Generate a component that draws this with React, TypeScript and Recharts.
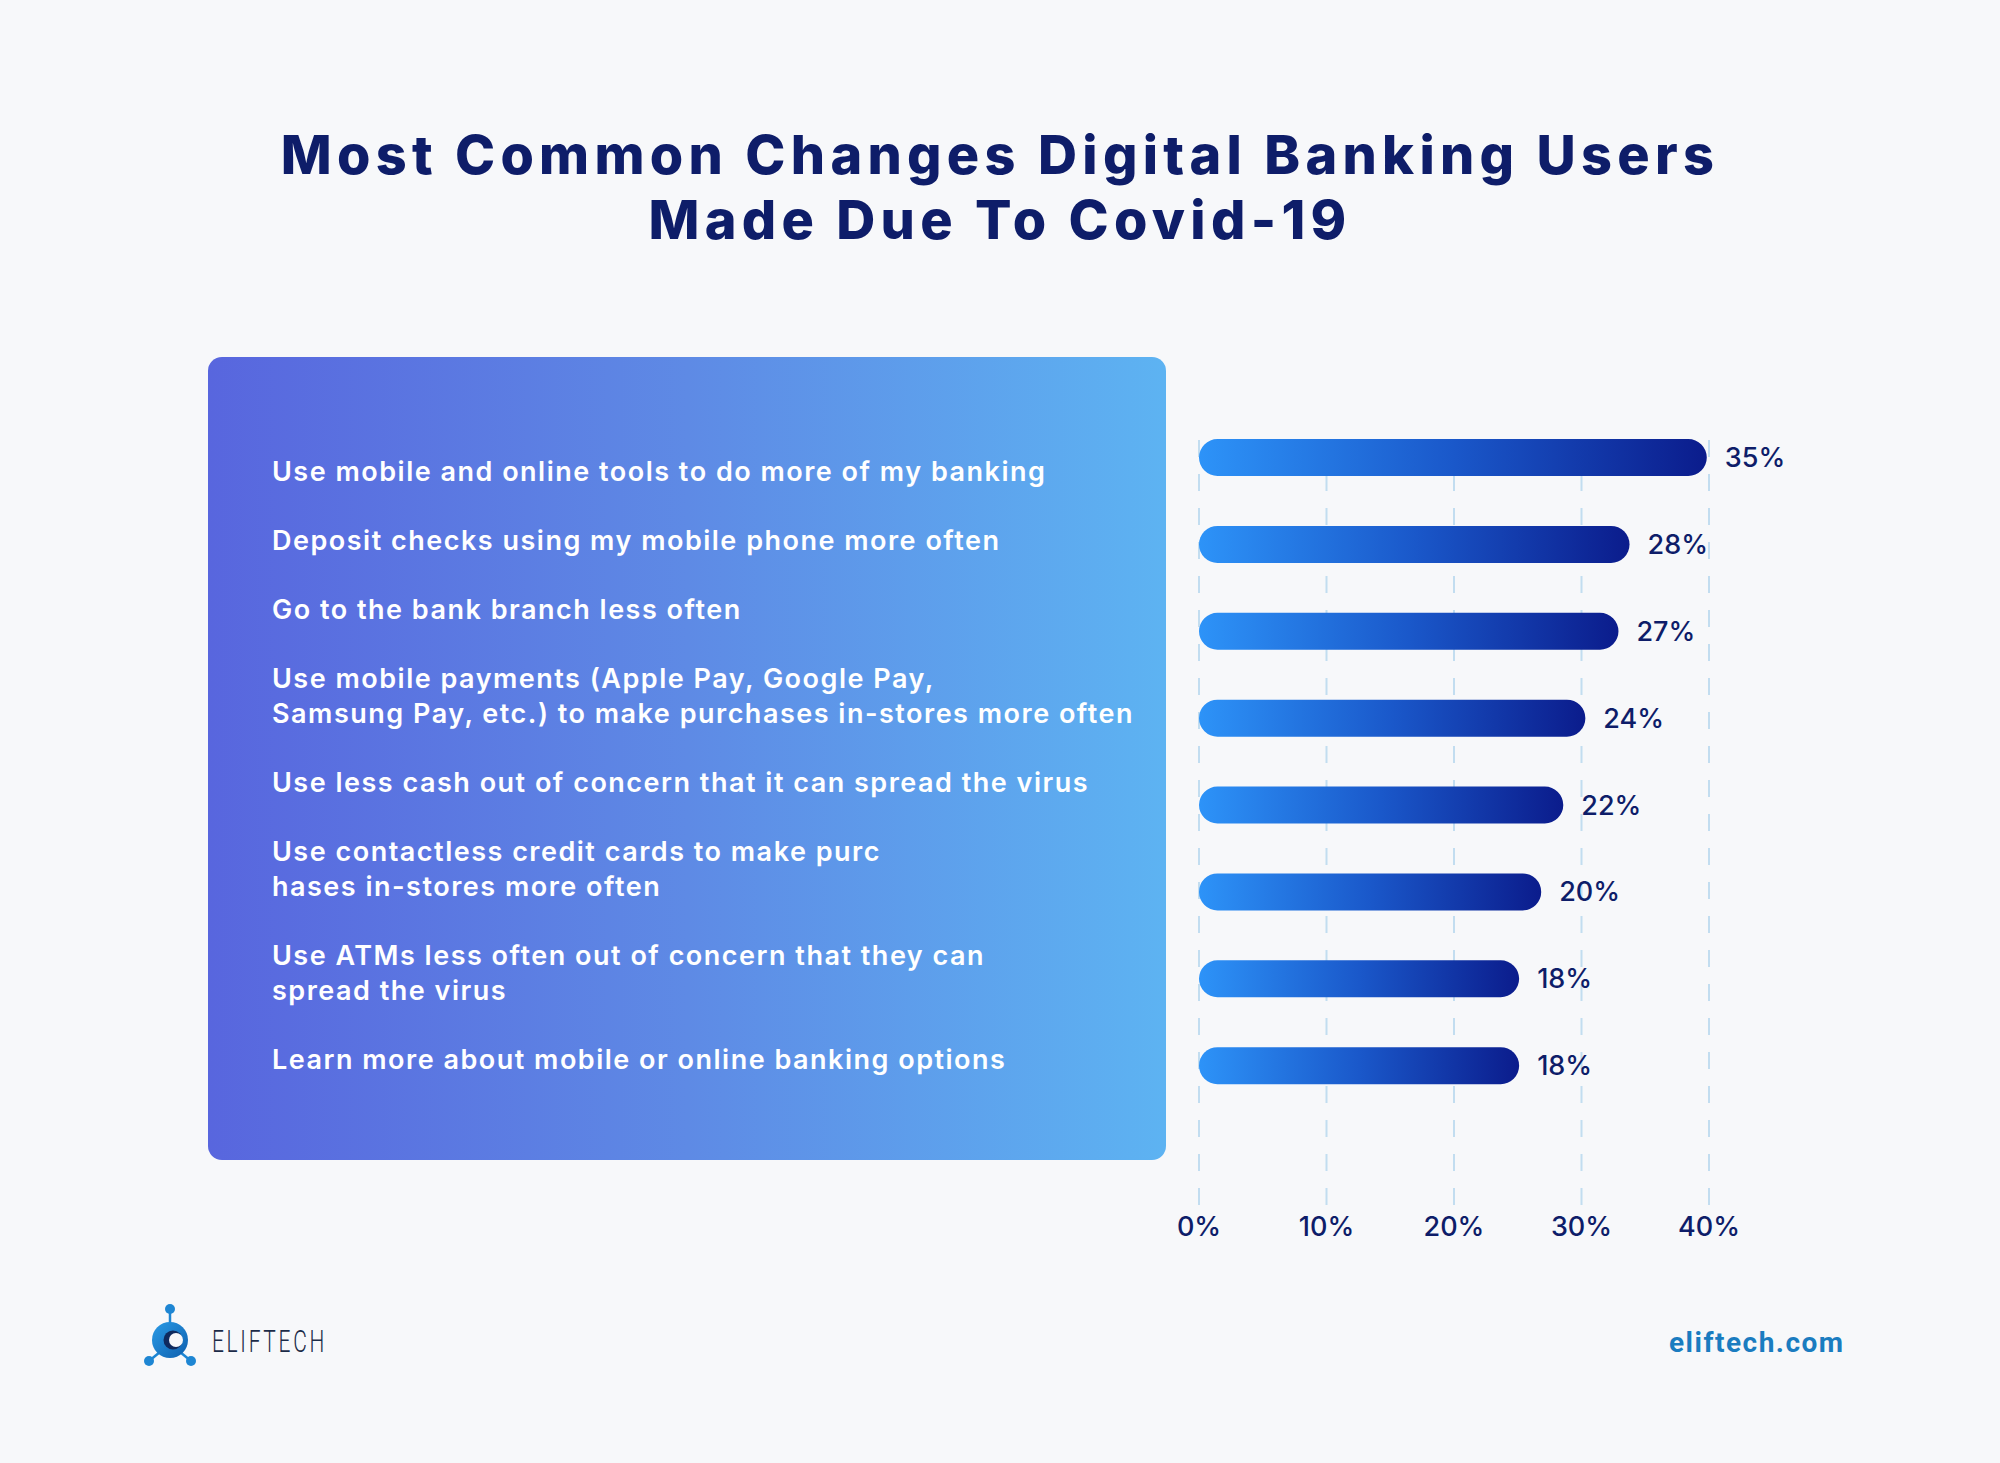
import { Bar, BarChart, CartesianGrid, LabelList, XAxis, YAxis } from "recharts";

const CATEGORIES = [
    "Use mobile and online tools to do more of my banking",
    "Deposit checks using my mobile phone more often",
    "Go to the bank branch less often",
    "Use mobile payments (Apple Pay, Google Pay,\nSamsung Pay, etc.) to make purchases in-stores more often",
    "Use less cash out of concern that it can spread the virus",
    "Use contactless credit cards to make purc\nhases in-stores more often",
    "Use ATMs less often out of concern that they can\nspread the virus",
    "Learn more about mobile or online banking options",
];
const VALUES = [35, 28, 27, 24, 22, 20, 18, 18];
const AXIS_TICKS = [0, 10, 20, 30, 40];
// the bars in the original are not to the tick scale: they all start well
// to the left of their value, so they get their own hidden axis
const BAR_DOMAIN = [-11, 35.2];

const NAVY = "#0E1D69";
const FONT = "Inter, 'Open Sans', sans-serif";

const data = CATEGORIES.map((name, i) => ({ name, value: VALUES[i] }));

function Logo() {
    return (
        <svg width={2000} height={110} style={{ position: "absolute", left: 0, top: 1280 }}>
            <defs>
                <linearGradient id="ring" x1="0" y1="0" x2="1" y2="1">
                    <stop offset="0%" stopColor="#2A9BE6" />
                    <stop offset="100%" stopColor="#0E5FAE" />
                </linearGradient>
            </defs>
            <g stroke="#1E86D3" strokeWidth={2.5}>
                <line x1={170} y1={29} x2={170} y2={50} />
                <line x1={149} y1={81} x2={160} y2={72} />
                <line x1={191} y1={81} x2={180} y2={72} />
            </g>
            <circle cx={170} cy={29} r={5} fill="#1E86D3" />
            <circle cx={149} cy={81} r={5} fill="#1E86D3" />
            <circle cx={191} cy={81} r={5} fill="#1E86D3" />
            <circle cx={170} cy={60} r={18} fill="url(#ring)" />
            <circle cx={173} cy={60} r={9.5} fill="#0F2A5E" />
            <circle cx={176} cy={60} r={7} fill="#F7F8FA" />
            <text
                x={212}
                y={72}
                fontFamily="Roboto, sans-serif"
                fontSize={31}
                fontWeight={300}
                letterSpacing={4}
                textLength={115}
                lengthAdjust="spacingAndGlyphs"
                fill="#1B2B48"
            >
                ELIFTECH
            </text>
            <text
                x={1669}
                y={72}
                fontFamily="Roboto, sans-serif"
                fontSize={28}
                fontWeight={700}
                letterSpacing={1.5}
                fill="#1A7CC0"
            >
                eliftech.com
            </text>
        </svg>
    );
}

export default function App() {
    return (
        <div
            style={{
                position: "absolute",
                left: 0,
                top: 0,
                width: 2000,
                height: 1463,
                background: "#F7F8FA",
                fontFamily: FONT,
                overflow: "hidden",
            }}
        >
            <div
                style={{
                    position: "absolute",
                    top: 122,
                    left: 0,
                    width: 2000,
                    textAlign: "center",
                    fontSize: 54,
                    fontWeight: 800,
                    lineHeight: "65px",
                    letterSpacing: 5.3,
                    color: NAVY,
                }}
            >
                Most Common Changes Digital Banking Users
                <br />
                Made Due To Covid-19
            </div>

            <div
                style={{
                    position: "absolute",
                    left: 208,
                    top: 357,
                    width: 958,
                    height: 803,
                    borderRadius: 14,
                    background: "linear-gradient(90deg, #5866DE 0%, #5E8AE5 50%, #5DB3F2 100%)",
                }}
            />
            <div style={{ position: "absolute", left: 272, top: 454 }}>
                {CATEGORIES.map((c) => (
                    <div
                        key={c}
                        style={{
                            whiteSpace: "pre-line",
                            color: "#FFFFFF",
                            fontSize: 27,
                            fontWeight: 600,
                            lineHeight: "35px",
                            letterSpacing: 1.5,
                            marginBottom: 34,
                        }}
                    >
                        {c}
                    </div>
                ))}
            </div>

            <Logo />

            <div style={{ position: "absolute", left: 1150, top: 0 }}>
                <BarChart
                    width={750}
                    height={1300}
                    data={data}
                    layout="vertical"
                    margin={{ top: 414, right: 191, bottom: 59, left: 49 }}
                >
                    <defs>
                        <linearGradient id="barFill" x1="0" y1="0" x2="1" y2="0">
                            <stop offset="0%" stopColor="#2D93F8" />
                            <stop offset="50%" stopColor="#1A58CA" />
                            <stop offset="100%" stopColor="#0B1C8C" />
                        </linearGradient>
                    </defs>
                    <CartesianGrid
                        horizontal={false}
                        stroke="#C2DDF0"
                        strokeWidth={2}
                        strokeDasharray="17 17"
                        y={440}
                        height={771}
                    />
                    <XAxis
                        type="number"
                        domain={[0, 40]}
                        allowDataOverflow
                        ticks={AXIS_TICKS}
                        interval={0}
                        tickFormatter={(v) => `${v}%`}
                        axisLine={false}
                        tickLine={false}
                        tickMargin={0}
                        tick={{ fill: NAVY, fontSize: 27, fontWeight: 500 }}
                    />
                    <XAxis xAxisId="bar" type="number" domain={BAR_DOMAIN} hide allowDataOverflow />
                    <YAxis type="category" dataKey="name" hide padding={{ top: 0, bottom: 102 }} />
                    <Bar
                        xAxisId="bar"
                        dataKey={(d) => [BAR_DOMAIN[0], d.value]}
                        barSize={37}
                        radius={18.5}
                        fill="url(#barFill)"
                        isAnimationActive={false}
                    >
                        <LabelList
                            dataKey="value"
                            position="right"
                            offset={18}
                            formatter={(v) => `${v}%`}
                            fill={NAVY}
                            fontSize={27}
                            fontWeight={500}
                        />
                    </Bar>
                </BarChart>
            </div>
        </div>
    );
}
